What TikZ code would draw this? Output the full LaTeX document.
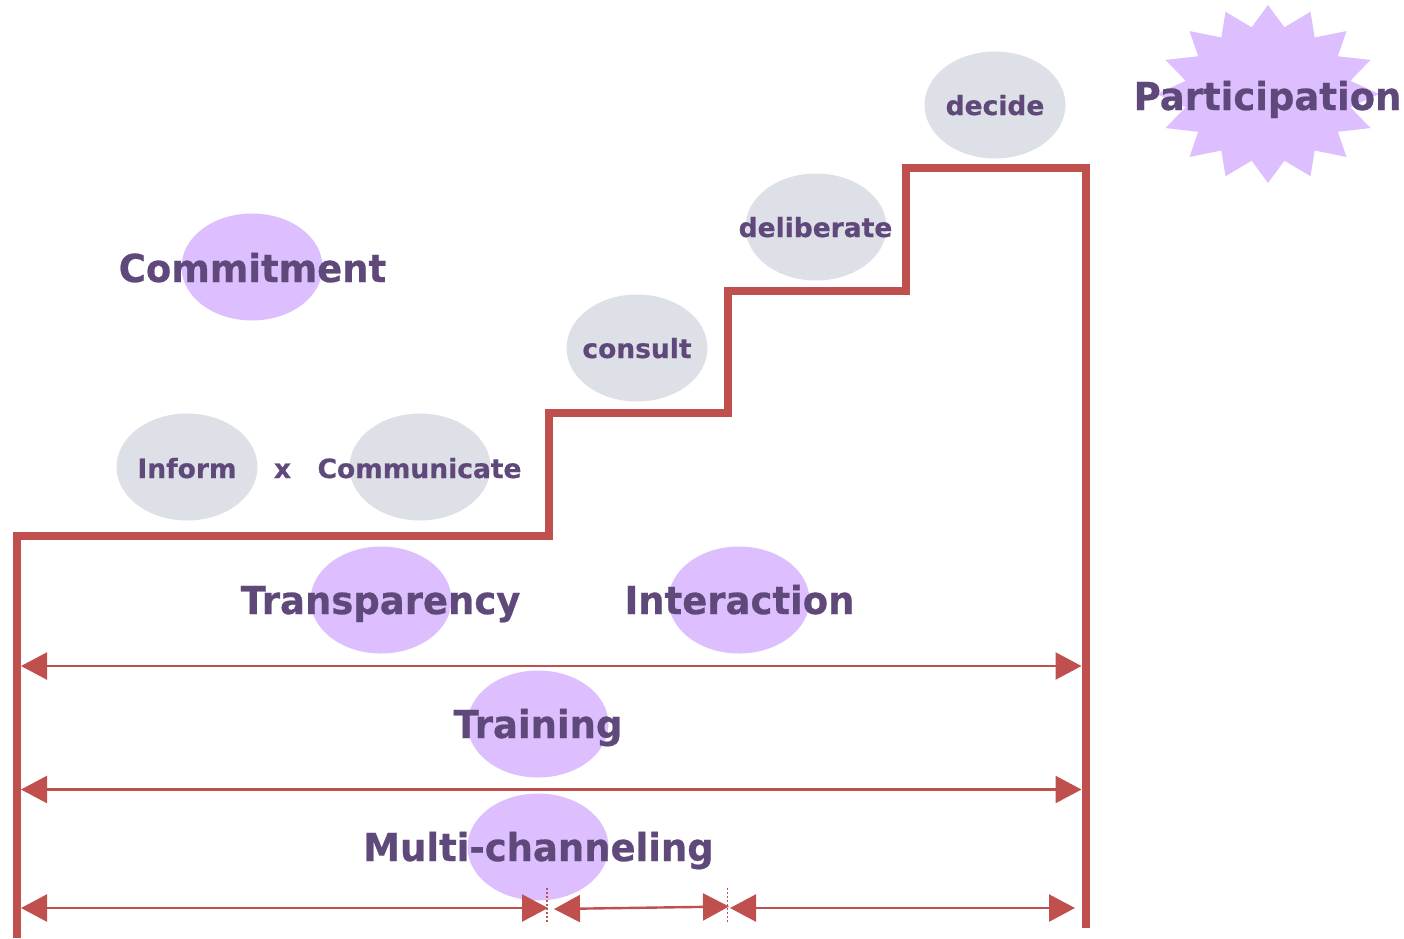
\documentclass[tikz,border=0pt]{standalone}
\usepackage{fontspec}
\setmainfont{DejaVu Sans}[FakeBold=0.6]
\newfontfamily\bigfont[FakeStretch=0.96,FakeBold=0.6]{DejaVu Sans}
\usetikzlibrary{shapes.geometric,arrows.meta}
\definecolor{stairred}{HTML}{C0504D}
\definecolor{lav}{HTML}{DDBFFF}
\definecolor{grayfill}{HTML}{DEE0E7}
\definecolor{txt}{HTML}{5F497A}
\tikzset{
  ell/.style={ellipse, minimum width=141pt, minimum height=107pt, inner sep=0pt},
  lavell/.style={ell, fill=lav},
  grell/.style={ell, fill=grayfill},
  bigtxt/.style={anchor=base, inner sep=0pt, text=txt, font=\bigfont\bfseries\fontsize{38.5pt}{40pt}\selectfont},
  smalltxt/.style={anchor=base, inner sep=0pt, text=txt, font=\bfseries\fontsize{26.5pt}{28pt}\selectfont},
  stair/.style={draw=stairred, line width=8pt, line join=miter},
  dimarrow/.style={draw=stairred, line width=2.4pt, {Triangle[length=26pt,width=27pt]}-{Triangle[length=26pt,width=27pt]}},
  sepline/.style={draw=stairred, line width=1.6pt, dash pattern=on 2pt off 2pt}
}
\begin{document}
\begin{tikzpicture}[x=1pt,y=-1pt]
\useasboundingbox (0,0) rectangle (1404,938);
% star
\fill[lav, shift={(1268,94)}] (90:111pt and 89pt)
  \foreach \k in {0,...,15}{ -- ({90+22.5*\k+11.25}:84pt and 68pt) -- ({90+22.5*(\k+1)}:111pt and 89pt)} -- cycle;
% ellipses
\node[grell] (edecide) at (995,105) {};
\node[grell] (edelib) at (816,227) {};
\node[grell] (econsult) at (637,348) {};
\node[grell] (einform) at (187,467) {};
\node[grell] (ecomm) at (420,467) {};
\node[lavell] (ecommit) at (252,267) {};
\node[lavell] (etransp) at (381,600) {};
\node[lavell] (einter) at (739,600) {};
\node[lavell] (etrain) at (538,724) {};
\node[lavell] (emulti) at (538,847) {};
% staircase
\coordinate (s0) at (17,938);
\coordinate (s1) at (17,536);
\coordinate (s2) at (549,536);
\coordinate (s3) at (549,413);
\coordinate (s4) at (728,413);
\coordinate (s5) at (728,291);
\coordinate (s6) at (906,291);
\coordinate (s7) at (906,168);
\coordinate (s8) at (1085.5,168);
\coordinate (s9) at (1085.5,928);
\draw[stair] (s0) -- (s1) -- (s2) -- (s3) -- (s4) -- (s5) -- (s6) -- (s7) -- (s8) -- (s9);
% dimension arrows
\coordinate (a1l) at (21,666);
\coordinate (a1r) at (1081.5,666);
\coordinate (a2l) at (21,789.5);
\coordinate (a2r) at (1081.5,789.5);
\coordinate (a3l) at (21,908);
\coordinate (a3m) at (548,908);
\coordinate (b3l) at (554,909);
\coordinate (b3r) at (729,906.5);
\coordinate (c3l) at (730,908);
\coordinate (c3r) at (1075,908);
\draw[dimarrow] (a1l) -- (a1r);
\draw[dimarrow] (a2l) -- (a2r);
\draw[dimarrow] (a3l) -- (a3m);
\draw[dimarrow] (b3l) -- (b3r);
\draw[dimarrow] (c3l) -- (c3r);
\coordinate (d1t) at (547,888);
\coordinate (d1b) at (547,922);
\coordinate (d2t) at (727.5,888);
\coordinate (d2b) at (727.5,922);
\draw[sepline] (d1t) -- (d1b);
\draw[sepline] (d2t) -- (d2b);
% texts
\node[bigtxt] (tpart) at (1267.5,110) {Participation};
\node[bigtxt] (tcommit) at (252.5,282) {Commitment};
\node[bigtxt] (ttransp) at (380.5,614) {Transparency};
\node[bigtxt] (tinter) at (739.5,614) {Interaction};
\node[bigtxt] (ttrain) at (538,738) {Training};
\node[bigtxt] (tmulti) at (538.5,861) {Multi-channeling};
\node[smalltxt] (tdecide) at (995,115) {decide};
\node[smalltxt] (tdelib) at (815.5,237) {deliberate};
\node[smalltxt] (tconsult) at (637,358) {consult};
\node[smalltxt] (tinform) at (187,478) {Inform};
\node[smalltxt] (tx) at (282.5,478) {x};
\node[smalltxt] (tcomm) at (419.5,478) {Communicate};
\end{tikzpicture}
\end{document}
